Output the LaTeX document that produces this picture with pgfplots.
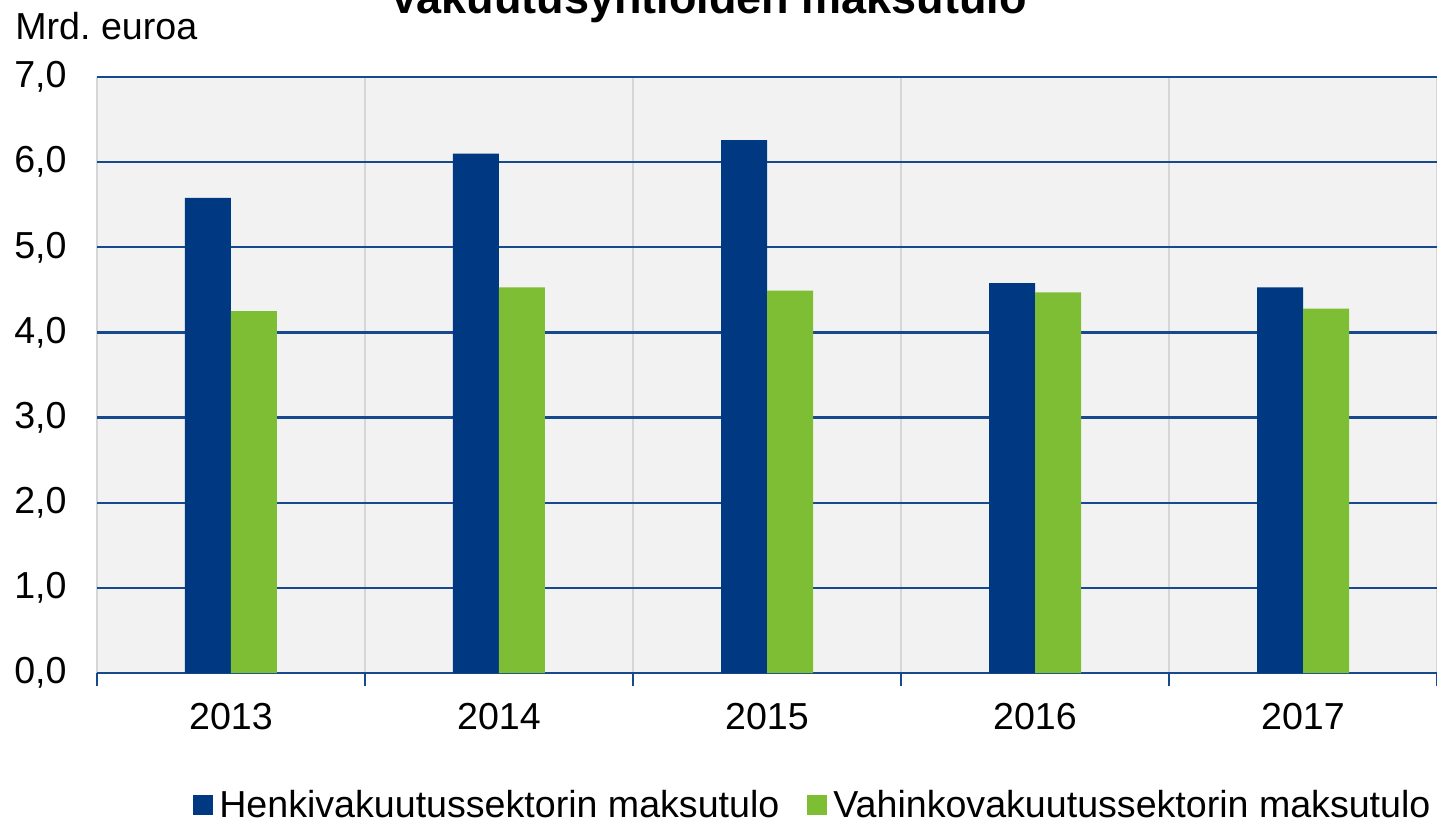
\documentclass[border=0pt]{standalone}
\usepackage{pgfplots}
\pgfplotsset{compat=1.18}
\usepackage{fontspec}
\setmainfont{Liberation Sans}
\definecolor{navy}{HTML}{003882}
\definecolor{grn}{HTML}{7DBE34}
\definecolor{bg}{HTML}{F2F2F2}
\definecolor{vgrid}{HTML}{D6D6D6}
\definecolor{hgrid}{HTML}{164A8C}
\begin{document}
\begin{tikzpicture}
\path[use as bounding box] (-48.5pt,-76pt) rectangle (670pt,336.5pt);
\begin{axis}[
  at={(0,0)}, anchor=south west,
  scale only axis, width=670pt, height=298pt,
  xmin=-0.5, xmax=4.5, ymin=0, ymax=7,
  ybar=0pt, bar width=23pt,
  xtick={0,1,2,3,4},
  xticklabels={2013,2014,2015,2016,2017},
  minor xtick={-0.5,0.5,1.5,2.5,3.5,4.5},
  ytick={0,1,2,3,4,5,6,7},
  major tick length=0pt, minor tick length=6.5pt,
  tick align=outside, xtick pos=bottom, ytick pos=left,
  minor tick style={color=hgrid, line width=0.8pt},
  axis line style={draw=none},
  axis background/.style={fill=bg},
  xminorgrids=true, ymajorgrids=true,
  minor grid style={color=vgrid, line width=0.9pt},
  major grid style={color=hgrid, line width=1.2pt},
  tick label style={font=\fontsize{18.8}{22}\selectfont},
  /pgf/number format/assume math mode=true,
  yticklabel style={/pgf/number format/.cd, fixed, fixed zerofill, precision=1, use comma, /tikz/.cd, anchor=east, inner sep=0pt, xshift=-15pt},
  xticklabel style={anchor=north, inner sep=0pt, yshift=-15pt},
  legend style={at={(0.0716,-0.2215)}, anchor=west, draw=none, fill=none, inner sep=0pt,
    font=\fontsize{18.8}{22}\selectfont, legend columns=2,
    /tikz/every even column/.append style={column sep=11pt},
    nodes={inner xsep=3pt, inner ysep=0pt}},
  legend image code/.code={\fill[#1] (0pt,-5pt) rectangle (10pt,5pt);},
]
\addplot[fill=navy, draw=none] coordinates {(0,5.58) (1,6.10) (2,6.26) (3,4.58) (4,4.53)};
\addplot[fill=grn, draw=none] coordinates {(0,4.25) (1,4.53) (2,4.49) (3,4.47) (4,4.28)};
\legend{Henkivakuutussektorin maksutulo, Vahinkovakuutussektorin maksutulo}
\end{axis}
\node[anchor=base west, inner sep=0pt, font=\fontsize{18.8}{22}\selectfont] at (-41pt,316.5pt) {Mrd.\ euroa};
\node[anchor=base, inner sep=0pt, font=\bfseries\fontsize{22.5}{26}\selectfont] at (305.5pt,329.5pt) {Vakuutusyhtiöiden maksutulo};
\end{tikzpicture}
\end{document}
